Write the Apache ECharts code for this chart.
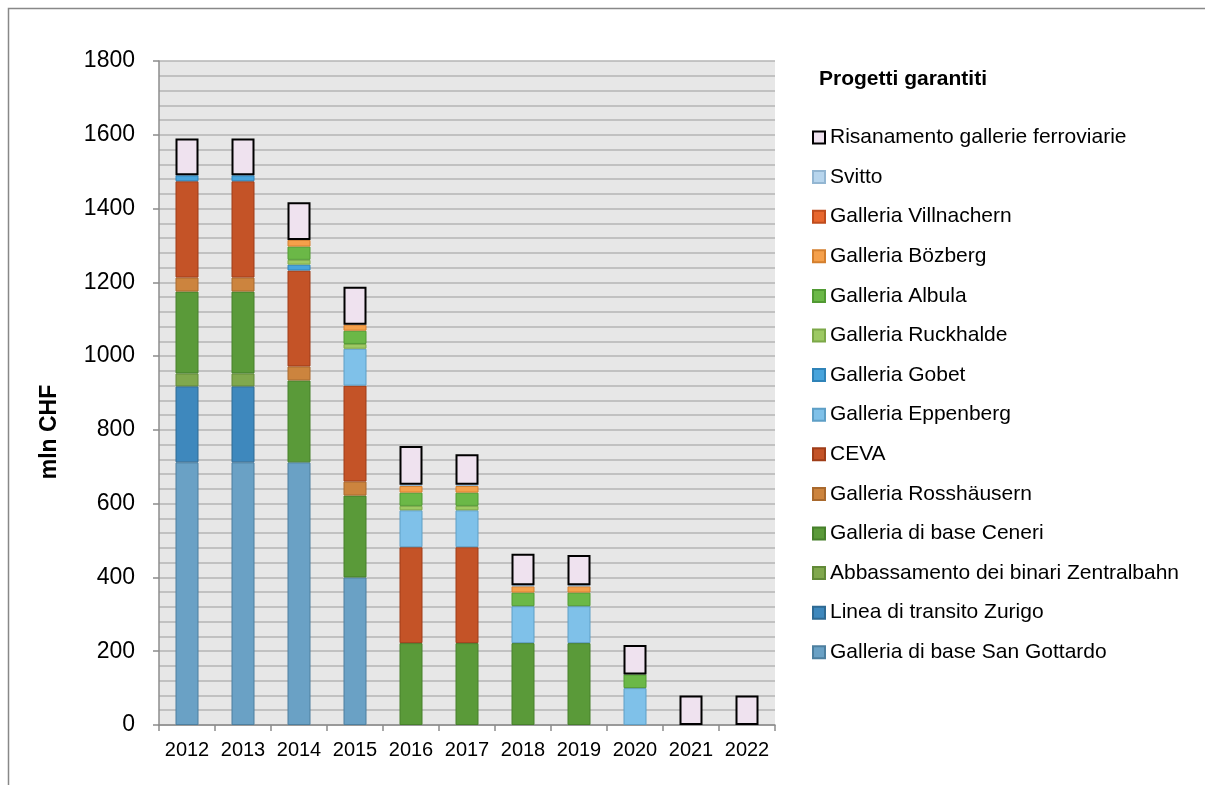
<!DOCTYPE html>
<html>
<head>
<meta charset="utf-8">
<script src="https://cdn.jsdelivr.net/npm/echarts@6/dist/echarts.min.js"></script>
<style>
  html, body { margin: 0; padding: 0; background: #fff; }
  #main { width: 1205px; height: 785px; }
</style>
</head>
<body>
<div id="main"></div>
<script>
var years = ['2012', '2013', '2014', '2015', '2016', '2017', '2018', '2019', '2020', '2021', '2022'];

// mln CHF per project, stacked bottom to top
var sanGottardo  = [712, 712, 712, 400, 0, 0, 0, 0, 0, 0, 0];
var zurigo       = [206, 206, 0, 0, 0, 0, 0, 0, 0, 0, 0];
var zentralbahn  = [35, 35, 0, 0, 0, 0, 0, 0, 0, 0, 0];
var ceneri       = [222, 222, 222, 222, 222, 222, 222, 222, 0, 0, 0];
var rosshausern  = [38, 38, 38, 38, 0, 0, 0, 0, 0, 0, 0];
var ceva         = [261, 261, 260, 260, 260, 260, 0, 0, 0, 0, 0];
var eppenberg    = [0, 0, 0, 100, 100, 100, 100, 100, 100, 0, 0];
var gobet        = [16, 16, 16, 0, 0, 0, 0, 0, 0, 0, 0];
var ruckhalde    = [0, 0, 13, 13, 12, 12, 0, 0, 0, 0, 0];
var albula       = [0, 0, 36, 36, 36, 36, 37, 37, 37, 0, 0];
var bozberg      = [0, 0, 18, 16, 18, 18, 17, 17, 0, 0, 0];
var villnachern  = [0, 0, 0, 0, 0, 0, 0, 0, 0, 0, 0];
var svitto       = [0, 0, 0, 0, 3, 3, 3, 3, 0, 0, 0];
var risanamento  = [100, 100, 102, 103, 105, 83, 85, 82, 80, 80, 80];

var projects = [
  ['Galleria di base San Gottardo', sanGottardo, '#6aa1c5', '#4d7f9f'],
  ['Linea di transito Zurigo', zurigo, '#3e88bd', '#2f6a93'],
  ['Abbassamento dei binari Zentralbahn', zentralbahn, '#80a84d', '#628a38'],
  ['Galleria di base Ceneri', ceneri, '#5a9a39', '#46802b'],
  ['Galleria Rosshäusern', rosshausern, '#cc843e', '#a9692d'],
  ['CEVA', ceva, '#c45327', '#9f3d18'],
  ['Galleria Eppenberg', eppenberg, '#7fc1e9', '#5e9fc6'],
  ['Galleria Gobet', gobet, '#48a4dc', '#2f83b8'],
  ['Galleria Ruckhalde', ruckhalde, '#9dc963', '#7ca848'],
  ['Galleria Albula', albula, '#6bb847', '#519a33'],
  ['Galleria Bözberg', bozberg, '#f5a04b', '#d47f2e'],
  ['Galleria Villnachern', villnachern, '#e8672e', '#c04c1d'],
  ['Svitto', svitto, '#b7d5ed', '#93b6d2'],
  ['Risanamento gallerie ferroviarie', risanamento, '#efe2ef', '#000000']
];

var FONT = 'Liberation Sans, Arial, sans-serif';

var series = projects.map(function (p) {
  var last = p[0] === 'Risanamento gallerie ferroviarie';
  return {
    name: p[0],
    type: 'bar',
    stack: 'tot',
    barWidth: 23,
    data: p[1].map(function (v) { return v === 0 ? '-' : v; }),
    itemStyle: {
      color: p[2],
      borderColor: p[3],
      borderWidth: last ? 2 : 1
    },
    emphasis: { disabled: true }
  };
});

var chart = echarts.init(document.getElementById('main'));
chart.setOption({
  animation: false,
  textStyle: { fontFamily: FONT },
  title: {
    text: 'Progetti garantiti',
    left: 819,
    top: 69,
    padding: 0,
    textStyle: { fontFamily: FONT, fontSize: 21, fontWeight: 'bold', color: '#000' }
  },
  legend: {
    orient: 'vertical',
    left: 812,
    top: 127,
    padding: 0,
    itemWidth: 12,
    itemHeight: 12,
    itemGap: 18.6,
    icon: 'rect',
    data: projects.map(function (p) { return p[0]; }).reverse(),
    textStyle: { fontFamily: FONT, fontSize: 21, lineHeight: 21, color: '#000' }
  },
  grid: { left: 159, right: 430, top: 61, bottom: 60, show: true, backgroundColor: '#e7e7e7', borderWidth: 0 },
  xAxis: {
    type: 'category',
    data: years,
    axisLine: { lineStyle: { color: '#8c8c8c', width: 1.5 } },
    axisTick: { show: true, length: 6, lineStyle: { color: '#8c8c8c', width: 1.5 } },
    axisLabel: { interval: 0, fontFamily: FONT, fontSize: 20, color: '#000', margin: 15 }
  },
  yAxis: {
    type: 'value',
    min: 0,
    max: 1800,
    interval: 200,
    axisLine: { show: true, lineStyle: { color: '#8c8c8c', width: 1.5 } },
    axisTick: { show: true, length: 6, lineStyle: { color: '#8c8c8c', width: 1.5 } },
    axisLabel: {
      fontFamily: FONT, fontSize: 23, color: '#000', margin: 24,
      formatter: function (v) { return String(v); }
    },
    splitLine: { lineStyle: { color: '#b5b5b5', width: 1.5 } },
    minorTick: { show: false, splitNumber: 5 },
    minorSplitLine: { show: true, lineStyle: { color: '#b5b5b5', width: 1.5 } }
  },
  graphic: [
    {
      type: 'rect',
      silent: true,
      shape: { x: 8.5, y: 8.5, width: 1250, height: 820 },
      style: { fill: 'none', stroke: '#888', lineWidth: 1.5 }
    },
    {
      type: 'text',
      x: 50,
      y: 432,
      rotation: Math.PI / 2,
      style: {
        text: 'mln CHF',
        font: 'bold 23px ' + FONT,
        fill: '#000',
        align: 'center',
        verticalAlign: 'middle'
      }
    }
  ],
  series: series
});
</script>
</body>
</html>
